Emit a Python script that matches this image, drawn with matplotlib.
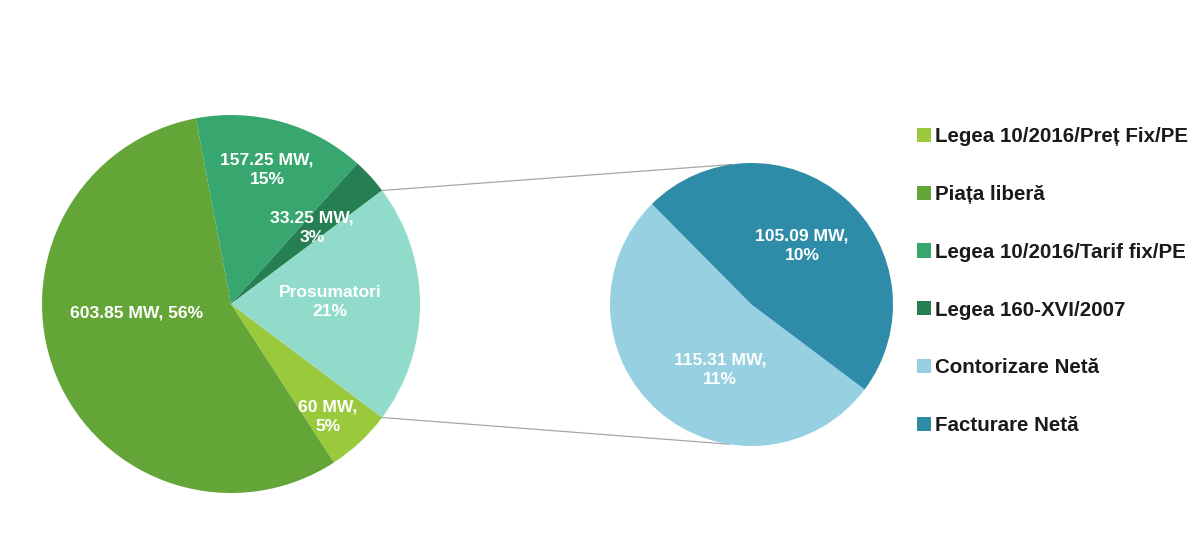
import matplotlib
matplotlib.use("Agg")
import matplotlib.pyplot as plt
from matplotlib.lines import Line2D
import numpy as np

# ---- data ----
main_labels = ["Legea 10/2016/Preț Fix/PE", "Piața liberă", "Legea 10/2016/Tarif fix/PE",
               "Legea 160-XVI/2007", "Prosumatori"]
main_values = [60.0, 603.85, 157.25, 33.25, 220.40]
main_colors = ["#9ACA3C", "#63A537", "#37A76F", "#267F53", "#91DBCB"]
main_texts = ["60 MW,\n5%", "603.85 MW, 56%", "157.25 MW,\n15%", "33.25 MW,\n3%", "Prosumatori\n21%"]

sub_labels = ["Contorizare Netă", "Facturare Netă"]
sub_values = [115.31, 105.09]
sub_colors = ["#96D0E1", "#2E8CA8"]
sub_texts = ["115.31 MW,\n11%", "105.09 MW,\n10%"]

# ---- layout (pixel space, y up) ----
W, H = 1200, 558
fig = plt.figure(figsize=(12, 5.58), dpi=100)
ax = fig.add_axes([0, 0, 1, 1])
ax.set_xlim(0, W)
ax.set_ylim(0, H)
ax.axis("off")

c1 = (231, H - 304); r1 = 189
c2 = (751.5, H - 304.5); r2 = 141.5

total = sum(main_values)
pros_deg = main_values[-1] / total * 360.0

w1, _ = ax.pie(main_values, colors=main_colors, center=c1, radius=r1,
               startangle=-pros_deg / 2, counterclock=False,
               wedgeprops=dict(linewidth=0))
w2, _ = ax.pie(sub_values, colors=sub_colors, center=c2, radius=r2,
               startangle=-pros_deg / 2, counterclock=False,
               wedgeprops=dict(linewidth=0))
ax.set_xlim(0, W)
ax.set_ylim(0, H)

# connector lines
a = np.deg2rad(pros_deg / 2)
p_up = (c1[0] + r1 * np.cos(a), c1[1] + r1 * np.sin(a))
p_dn = (c1[0] + r1 * np.cos(a), c1[1] - r1 * np.sin(a))
ax.add_line(Line2D([p_up[0], c2[0] - 20], [p_up[1], c2[1] + r2 - 1.5], color="#A6A6A6", lw=0.9, zorder=0))
ax.add_line(Line2D([p_dn[0], c2[0] - 22], [p_dn[1], c2[1] - r2 + 1.8], color="#A6A6A6", lw=0.9, zorder=0))

# data labels (pixel positions from the reference)
lab_kw = dict(ha="center", va="center", color="white", fontsize=12.6,
              fontweight="bold", family="Liberation Sans", linespacing=1.38)
main_pos = [(328, 417), (137, 313), (267, 170), (312, 228), (330, 302)]
for t, (x, y) in zip(main_texts, main_pos):
    ax.text(x, H - y, t, **lab_kw)
sub_pos = [(720, 370), (802, 246)]
for t, (x, y) in zip(sub_texts, sub_pos):
    ax.text(x, H - y, t, **lab_kw)

# legend
handles = list(w1[:4]) + list(w2)
labels = main_labels[:4] + sub_labels
leg = fig.legend(handles, labels, loc="upper left", bbox_to_anchor=(917 / W, 1 - 127 / H),
                 frameon=False, borderpad=0, borderaxespad=0,
                 handlelength=0.68, handleheight=0.68, handletextpad=0.2,
                 labelspacing=1.89,
                 prop=dict(family="Liberation Sans", weight="bold", size=14.8))
for txt in leg.get_texts():
    txt.set_color("#1A1A1A")

fig.savefig("out.png", dpi=100)
